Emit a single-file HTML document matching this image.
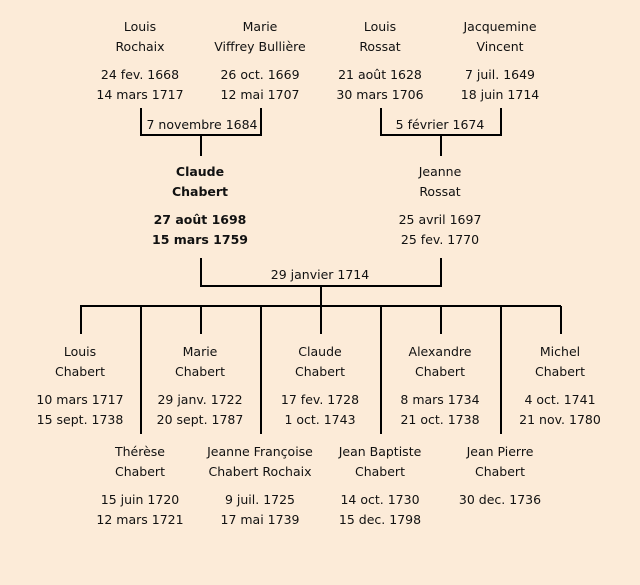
<!DOCTYPE html>
<html><head><style>
body{margin:0;width:640px;height:585px;background:#fcebd8;position:relative;overflow:hidden;font-family:"DejaVu Sans","Liberation Sans",sans-serif;font-size:12.5px;color:#111}
.t{position:absolute;width:200px;margin-left:-100px;text-align:center;line-height:20px;white-space:nowrap}
.b{font-weight:bold}
svg{position:absolute;left:0;top:0}
</style></head><body>
<svg width="640" height="585" stroke="#000" stroke-width="2" fill="none">
<path d="M141 108V135H261V108M201 135V156"/>
<path d="M381 108V135H501V108M441 135V156"/>
<path d="M201 258V286H441V258M321 286V306"/>
<path d="M80 306H561"/>
<path d="M81 306V334M201 306V334M321 306V334M441 306V334M561 306V334"/>
<path d="M141 306V434M261 306V434M381 306V434M501 306V434"/>
</svg>
<div class="t" style="left:140px;top:17px">Louis<br>Rochaix</div>
<div class="t" style="left:140px;top:65px">24 fev. 1668<br>14 mars 1717</div>
<div class="t" style="left:260px;top:17px">Marie<br>Viffrey Bullière</div>
<div class="t" style="left:260px;top:65px">26 oct. 1669<br>12 mai 1707</div>
<div class="t" style="left:380px;top:17px">Louis<br>Rossat</div>
<div class="t" style="left:380px;top:65px">21 août 1628<br>30 mars 1706</div>
<div class="t" style="left:500px;top:17px">Jacquemine<br>Vincent</div>
<div class="t" style="left:500px;top:65px">7 juil. 1649<br>18 juin 1714</div>
<div class="t" style="left:202px;top:115px">7 novembre 1684</div>
<div class="t" style="left:440px;top:115px">5 février 1674</div>
<div class="t b" style="left:200px;top:162px">Claude<br>Chabert</div>
<div class="t b" style="left:200px;top:210px">27 août 1698<br>15 mars 1759</div>
<div class="t" style="left:440px;top:162px">Jeanne<br>Rossat</div>
<div class="t" style="left:440px;top:210px">25 avril 1697<br>25 fev. 1770</div>
<div class="t" style="left:320px;top:265px">29 janvier 1714</div>
<div class="t" style="left:80px;top:342px">Louis<br>Chabert</div>
<div class="t" style="left:80px;top:390px">10 mars 1717<br>15 sept. 1738</div>
<div class="t" style="left:200px;top:342px">Marie<br>Chabert</div>
<div class="t" style="left:200px;top:390px">29 janv. 1722<br>20 sept. 1787</div>
<div class="t" style="left:320px;top:342px">Claude<br>Chabert</div>
<div class="t" style="left:320px;top:390px">17 fev. 1728<br>1 oct. 1743</div>
<div class="t" style="left:440px;top:342px">Alexandre<br>Chabert</div>
<div class="t" style="left:440px;top:390px">8 mars 1734<br>21 oct. 1738</div>
<div class="t" style="left:560px;top:342px">Michel<br>Chabert</div>
<div class="t" style="left:560px;top:390px">4 oct. 1741<br>21 nov. 1780</div>
<div class="t" style="left:140px;top:442px">Thérèse<br>Chabert</div>
<div class="t" style="left:140px;top:490px">15 juin 1720<br>12 mars 1721</div>
<div class="t" style="left:260px;top:442px">Jeanne Françoise<br>Chabert Rochaix</div>
<div class="t" style="left:260px;top:490px">9 juil. 1725<br>17 mai 1739</div>
<div class="t" style="left:380px;top:442px">Jean Baptiste<br>Chabert</div>
<div class="t" style="left:380px;top:490px">14 oct. 1730<br>15 dec. 1798</div>
<div class="t" style="left:500px;top:442px">Jean Pierre<br>Chabert</div>
<div class="t" style="left:500px;top:490px">30 dec. 1736</div>
</body></html>
